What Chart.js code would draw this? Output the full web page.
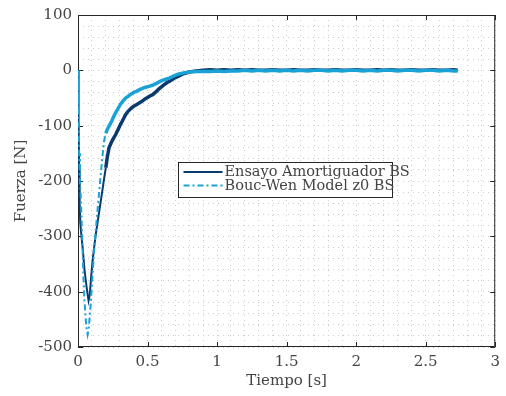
<!DOCTYPE html>
<html>
<head>
<meta charset="utf-8">
<script src="https://cdn.jsdelivr.net/npm/chart.js@4/dist/chart.umd.min.js"></script>
<style>
  html, body { margin: 0; padding: 0; background: #ffffff; }
  #wrap { width: 506px; height: 396px; }
</style>
</head>
<body>
<div id="wrap"><canvas id="c" width="506" height="396"></canvas></div>
<script>
// Measured damper force (Ensayo) and Bouc-Wen model response, time in s, force in N
const seriesNames = ['Ensayo Amortiguador BS', 'Bouc-Wen Model z0 BS'];

const timeEnsayo = [
  0, 0.004, 0.008, 0.012, 0.016, 0.025, 0.035, 0.045, 0.055, 0.065, 0.076, 0.085, 0.095,
  0.105, 0.115, 0.128, 0.14, 0.152, 0.164, 0.176, 0.188, 0.20, 0.21, 0.223, 0.24, 0.255,
  0.271, 0.29, 0.305, 0.318, 0.33, 0.342, 0.36, 0.38, 0.40, 0.42, 0.44, 0.46, 0.48, 0.50,
  0.52, 0.537, 0.56, 0.58, 0.60, 0.62, 0.64, 0.656, 0.68, 0.70, 0.727, 0.75, 0.775, 0.80,
  0.85, 0.90, 0.95, 1.00, 1.05, 1.10, 1.15, 1.20, 1.25, 1.30, 1.35, 1.40, 1.45, 1.50,
  1.55, 1.60, 1.65, 1.70, 1.75, 1.80, 1.85, 1.90, 1.95, 2.00, 2.05, 2.10, 2.15, 2.20,
  2.25, 2.30, 2.35, 2.40, 2.45, 2.50, 2.55, 2.60, 2.65, 2.70, 2.73
];
const forceEnsayo = [
  0, -90, -180, -240, -275, -300, -325, -356, -378, -398, -416, -405, -372,
  -344, -322, -296, -276, -256, -236, -216, -195, -176, -158, -140, -130, -123,
  -116, -106, -98, -92, -86, -80, -74, -69, -65, -62, -59, -56, -52, -49,
  -46, -44, -39, -34, -30, -26, -22, -20, -16, -13, -10, -7, -5, -3,
  -1, 0, 1, 0, 1, 0, 1, 0, 1, 0, 0, 1, 0, 0,
  1, 0, 0, 1, 0, 0, 1, 0, 0, 1, 0, 0, 1, 0,
  1, 0, 0, 1, 0, 0, 1, 0, 0, 1, 0
];

const timeModel = [
  0, 0.004, 0.008, 0.014, 0.021, 0.03, 0.038, 0.045, 0.055, 0.062, 0.069, 0.076, 0.084,
  0.093, 0.104, 0.116, 0.128, 0.14, 0.157, 0.172, 0.187, 0.20, 0.212, 0.227, 0.242,
  0.256, 0.27, 0.288, 0.306, 0.324, 0.342, 0.36, 0.38, 0.40, 0.42, 0.45, 0.48, 0.51,
  0.535, 0.56, 0.59, 0.62, 0.656, 0.69, 0.72, 0.75, 0.80, 0.85,
  0.90, 0.95, 1.00, 1.05, 1.10, 1.15, 1.20, 1.25, 1.30, 1.35, 1.40, 1.45, 1.50, 1.55,
  1.60, 1.65, 1.70, 1.75, 1.80, 1.85, 1.90, 1.95, 2.00, 2.05, 2.10, 2.15, 2.20, 2.25,
  2.30, 2.35, 2.40, 2.45, 2.50, 2.55, 2.60, 2.65, 2.70, 2.73
];
const forceModel = [
  0, -80, -150, -200, -236, -300, -365, -410, -448, -468, -478, -470, -446,
  -416, -372, -326, -288, -254, -206, -165, -128, -114, -106, -99, -92,
  -84, -77, -69, -61, -55, -50, -47, -43, -40, -38, -34, -31, -29,
  -27, -24, -20, -17, -14, -10, -7, -5, -3, -2,
  -2, -2, -1, -2, -1, -1, 0, -1, 0, -1, 0, -1, 0, -1,
  0, -1, 0, 0, -1, 0, -1, 0, 0, -1, 0, -1, 0, 0,
  -1, 0, 0, -1, 0, 0, -1, 0, -1, -1
];

// axis limits and tick steps
const xRange = [0, 3];
const yRange = [-500, 100];
const xMajor = 0.5, xMinor = 0.1;
const yMajor = 100, yMinor = 20;

const colorEnsayo = '#0b3a6e';
const colorModel = '#1aa2d6';
const textColor = '#444444';
const fontFamily = '"DejaVu Serif", "Liberation Serif", serif';

const toPoints = (ts, fs) => ts.map((t, i) => ({ x: t, y: fs[i] }));
const isMajor = (v, step) => Math.abs(v / step - Math.round(v / step)) < 1e-6;

// Box around the plot with inward tick marks on all four sides
const boxPlugin = {
  id: 'axesBox',
  beforeDatasetsDraw(chart) {
    const { ctx, chartArea: a, scales: { x, y } } = chart;
    ctx.save();
    ctx.strokeStyle = '#262626';
    ctx.lineWidth = 1;
    ctx.beginPath();
    ctx.rect(a.left + 0.5, a.top + 0.5, a.right - a.left - 1, a.bottom - a.top - 1);
    const tl = 5;
    for (let v = xRange[0]; v <= xRange[1] + 1e-9; v += xMajor) {
      const px = Math.round(x.getPixelForValue(v)) + 0.5;
      ctx.moveTo(px, a.bottom); ctx.lineTo(px, a.bottom - tl);
      ctx.moveTo(px, a.top); ctx.lineTo(px, a.top + tl);
    }
    for (let v = yRange[0]; v <= yRange[1] + 1e-9; v += yMajor) {
      const py = Math.round(y.getPixelForValue(v)) + 0.5;
      ctx.moveTo(a.left, py); ctx.lineTo(a.left + tl, py);
      ctx.moveTo(a.right, py); ctx.lineTo(a.right - tl, py);
    }
    ctx.stroke();
    ctx.restore();
  }
};

// Legend box placed inside the plot
const legendPlugin = {
  id: 'innerLegend',
  afterDatasetsDraw(chart) {
    const { ctx } = chart;
    const bx = 178.5, by = 162.5, bw = 214, bh = 35;
    ctx.save();
    ctx.fillStyle = '#ffffff';
    ctx.fillRect(bx, by, bw, bh);
    ctx.strokeStyle = '#262626';
    ctx.lineWidth = 1;
    ctx.strokeRect(bx, by, bw, bh);
    const rows = [
      { label: seriesNames[0], color: colorEnsayo, dash: [], y: by + 9.5 },
      { label: seriesNames[1], color: colorModel, dash: [6, 3, 2, 3], y: by + 23 }
    ];
    ctx.font = '14.5px ' + fontFamily;
    ctx.textBaseline = 'middle';
    rows.forEach(r => {
      ctx.strokeStyle = r.color;
      ctx.lineWidth = 2;
      ctx.setLineDash(r.dash);
      ctx.beginPath();
      ctx.moveTo(bx + 5, r.y);
      ctx.lineTo(bx + 44, r.y);
      ctx.stroke();
      ctx.setLineDash([]);
      ctx.fillStyle = textColor;
      ctx.fillText(r.label, bx + 46, r.y + 0.5);
    });
    ctx.restore();
  }
};

const steep = (ctx) => ctx.p0.parsed.x < 0.2;

new Chart(document.getElementById('c'), {
  type: 'line',
  data: {
    datasets: [
      {
        label: seriesNames[0],
        data: toPoints(timeEnsayo, forceEnsayo),
        borderColor: colorEnsayo,
        borderWidth: 2,
        pointRadius: 0,
        tension: 0,
        order: 1,
        segment: {
          borderWidth: (c) => steep(c) ? 2 : 3.5
        }
      },
      {
        label: seriesNames[1],
        data: toPoints(timeModel, forceModel),
        borderColor: colorModel,
        borderWidth: 2,
        pointRadius: 0,
        tension: 0,
        order: 0,
        segment: {
          borderDash: (c) => steep(c) ? [6, 3, 2, 3] : [],
          borderWidth: (c) => steep(c) ? 2 : 3.5
        }
      }
    ]
  },
  options: {
    responsive: false,
    animation: false,
    events: [],
    layout: { padding: { top: 14, right: 7, left: 0, bottom: 0 } },
    plugins: { legend: { display: false }, tooltip: { enabled: false } },
    scales: {
      x: {
        type: 'linear',
        min: xRange[0], max: xRange[1],
        afterFit: (s) => { s.height = 49; },
        ticks: {
          stepSize: xMinor,
          autoSkip: false,
          maxRotation: 0,
          padding: 6,
          color: textColor,
          font: { family: fontFamily, size: 15 },
          callback: (v) => isMajor(v, xMajor) ? String(Math.round(v * 10) / 10) : ''
        },
        grid: { color: '#cdcdcd', lineWidth: 1, drawTicks: false },
        border: { display: false, dash: [1, 4] },
        title: {
          display: true, text: 'Tiempo [s]', color: textColor,
          font: { family: fontFamily, size: 15 },
          padding: { top: 0, bottom: 6 }
        }
      },
      y: {
        type: 'linear',
        min: yRange[0], max: yRange[1],
        afterFit: (s) => { s.width = 78; },
        ticks: {
          stepSize: yMinor,
          autoSkip: false,
          padding: 6,
          color: textColor,
          font: { family: fontFamily, size: 15 },
          callback: (v) => isMajor(v, yMajor) ? String(Math.round(v)) : ''
        },
        grid: { color: '#cdcdcd', lineWidth: 1, drawTicks: false },
        border: { display: false, dash: [1, 4] },
        title: {
          display: true, text: 'Fuerza [N]', color: textColor,
          font: { family: fontFamily, size: 15 },
          padding: { top: 12, bottom: 0 }
        }
      }
    }
  },
  plugins: [boxPlugin, legendPlugin]
});
</script>
</body>
</html>
